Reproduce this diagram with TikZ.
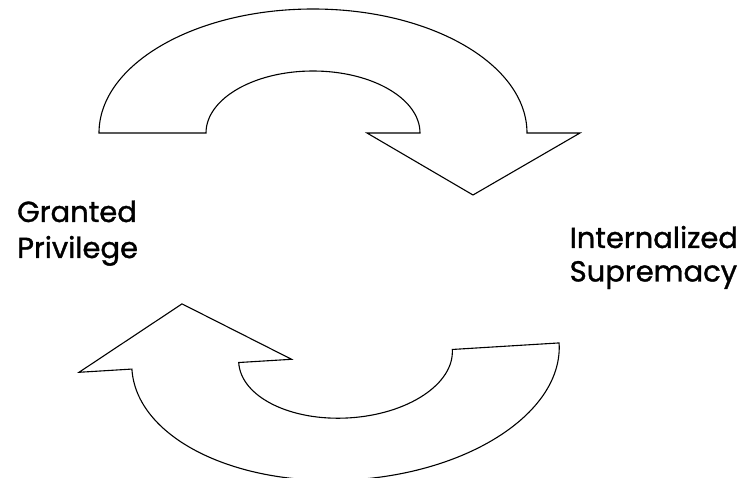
\documentclass[tikz,border=0pt]{standalone}
\usepackage{fontspec}
\setmainfont{Poppins}[FakeBold=1.2]
\tikzset{
  cyclearrow/.style={draw=black, line width=1.1pt, fill=white, line join=miter},
  label/.style={inner sep=0pt, align=left, anchor=base west, text=black}
}
\begin{document}
\begin{tikzpicture}[x=1pt,y=1pt]
\useasboundingbox (0,0) rectangle (745,-478);
% top arrow
\begin{scope}[shift={(313,-133)}]
\draw[cyclearrow] (-214,0) arc[start angle=180, end angle=0, x radius=214, y radius=124]
  -- (267,0) -- (160,-62) -- (54,0) -- (107,0)
  arc[start angle=0, end angle=180, x radius=107, y radius=62] -- cycle;
\end{scope}
% bottom arrow
\begin{scope}[shift={(345.5,-356)}, rotate=183.5]
\draw[cyclearrow] (-214,0) arc[start angle=180, end angle=0, x radius=214, y radius=124]
  -- (267,0) -- (160,-62) -- (54,0) -- (107,0)
  arc[start angle=0, end angle=180, x radius=107, y radius=62] -- cycle;
\end{scope}
\node[label, font=\fontsize{29}{36}\selectfont] (gp) at (17,-258) {Granted\\Privilege};
\node[label, font=\fontsize{29}{33.5}\selectfont] (is) at (569.5,-281.5) {Internalized\\Supremacy};
\end{tikzpicture}
\end{document}
